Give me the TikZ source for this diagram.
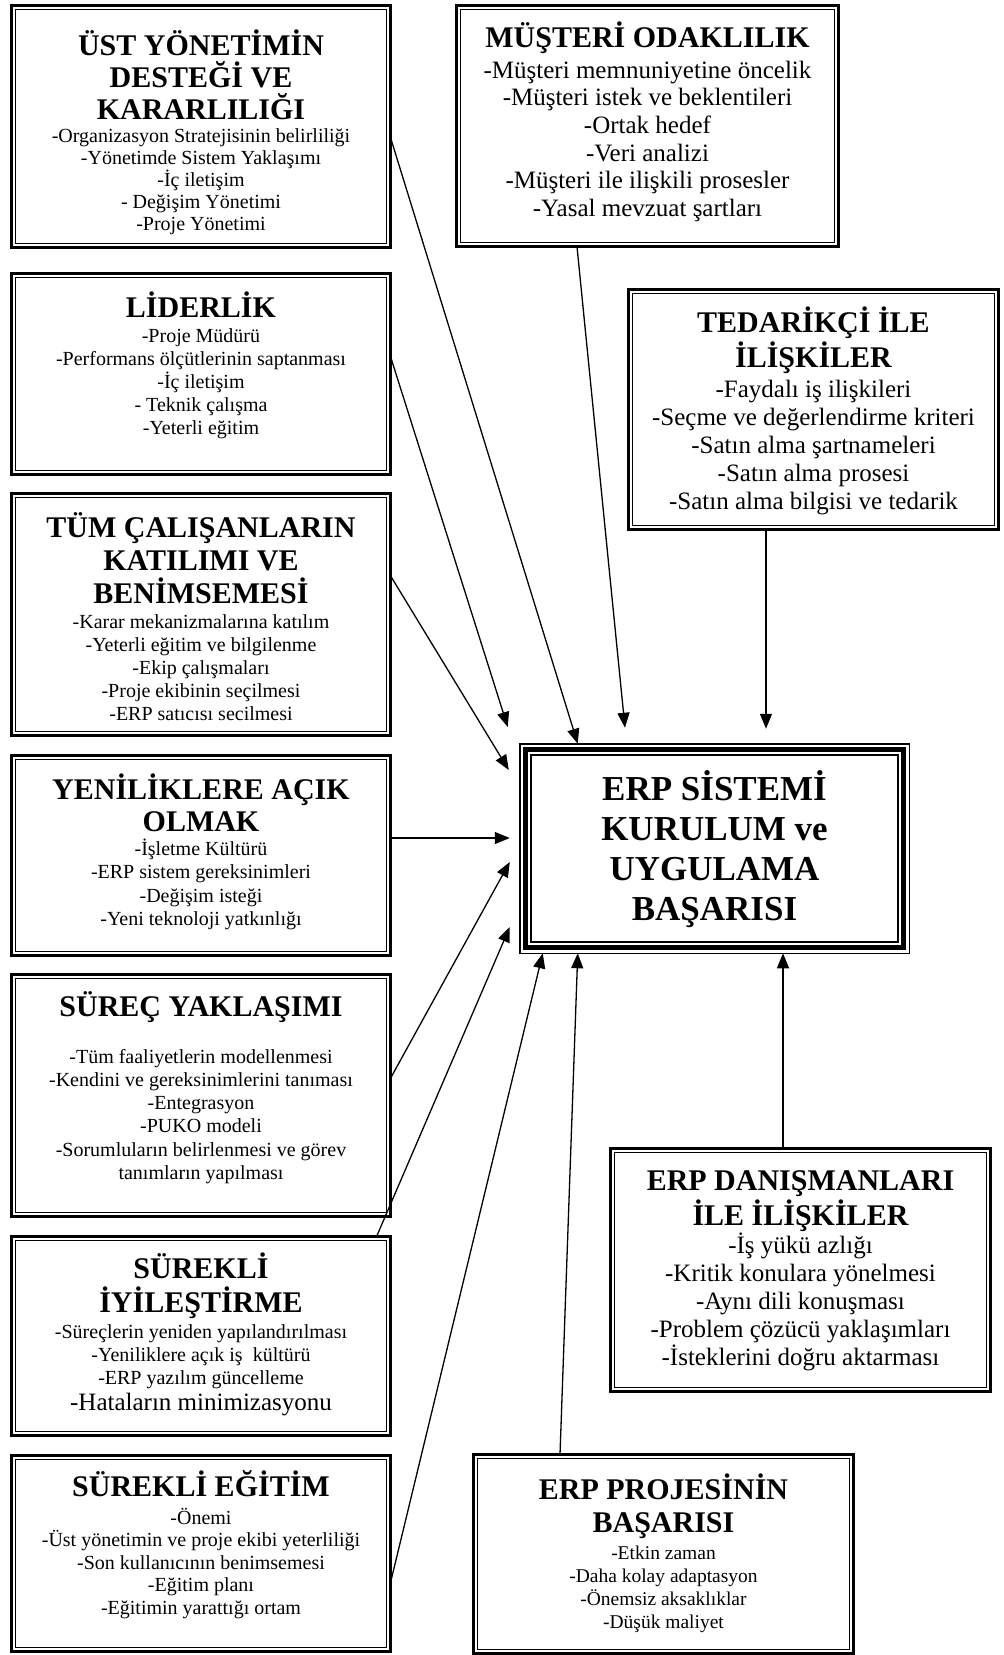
\documentclass[tikz,border=0pt]{standalone}
\usepackage{fontspec}
\setmainfont{Liberation Serif}
\usetikzlibrary{arrows.meta}

% frame: thick outer line with a thin line just inside it
\newcommand\panel[5]{%
  \node[frame, minimum width={#4-#2-2.7}, minimum height={#5-#3-2.7}]
    (#1) at ({(#2+#4)/2},{(#3+#5)/2}) {};
  \draw[line width=1.3pt] ([shift={(4.2,4.2)}]#1.north west)
    rectangle ([shift={(-4.2,-4.2)}]#1.south east);
}

\begin{document}
\begin{tikzpicture}[x=1pt,y=-1pt,
  frame/.style={draw, line width=2.7pt, outer sep=0pt, inner sep=0pt},
  ttl/.style={font=\bfseries\fontsize{30}{33}\selectfont, align=center, anchor=base, inner sep=0pt},
  bdy/.style={font=\fontsize{20}{23}\selectfont, align=center, anchor=base, inner sep=0pt},
  bdyL/.style={font=\fontsize{25}{28}\selectfont, align=center, anchor=base, inner sep=0pt},
  link/.style={line width=1.3pt, -{Triangle[length=15pt,width=12pt]}}
]
\useasboundingbox (0,0) rectangle (1004,1655);
% text nodes are placed by the baseline of their last line

% ---------- left column ----------
\panel{ust}{10}{4}{392}{249}
\node[ttl, font=\bfseries\fontsize{30}{32}\selectfont] (ust-t) at (201,{55+2*32}) {ÜST YÖNETİMİN\\DESTEĞİ VE\\KARARLILIĞI};
\node[bdy, font=\fontsize{20}{22}\selectfont] (ust-b) at (201,{142+4*22}) {-Organizasyon Stratejisinin belirliliği\\-Yönetimde Sistem Yaklaşımı\\-İç iletişim\\- Değişim Yönetimi\\-Proje Yönetimi};

\panel{lid}{10}{272}{392}{476}
\node[ttl] (lid-t) at (201,317) {LİDERLİK};
\node[bdy] (lid-b) at (201,{342+4*23}) {-Proje Müdürü\\-Performans ölçütlerinin saptanması\\-İç iletişim\\- Teknik çalışma\\-Yeterli eğitim};

\panel{tum}{10}{492}{392}{737}
\node[ttl] (tum-t) at (201,{537+2*33}) {TÜM ÇALIŞANLARIN\\KATILIMI VE\\BENİMSEMESİ};
\node[bdy] (tum-b) at (201,{628+4*23}) {-Karar mekanizmalarına katılım\\-Yeterli eğitim ve bilgilenme\\-Ekip çalışmaları\\-Proje ekibinin seçilmesi\\-ERP satıcısı secilmesi};

\panel{yeni}{10}{754}{392}{957}
\node[ttl, font=\bfseries\fontsize{30}{32}\selectfont] (yeni-t) at (201,{799+32}) {YENİLİKLERE AÇIK\\OLMAK};
\node[bdy, font=\fontsize{20}{23.5}\selectfont] (yeni-b) at (201,{855+3*23.5}) {-İşletme Kültürü\\-ERP sistem gereksinimleri\\-Değişim isteği\\-Yeni teknoloji yatkınlığı};

\panel{surec}{10}{973}{392}{1218}
\node[ttl] (surec-t) at (201,1016) {SÜREÇ YAKLAŞIMI};
\node[bdy, font=\fontsize{20}{23.3}\selectfont] (surec-b) at (201,{1063+5*23.3}) {-Tüm faaliyetlerin modellenmesi\\-Kendini ve gereksinimlerini tanıması\\-Entegrasyon\\-PUKO modeli\\-Sorumluların belirlenmesi ve görev\\tanımların yapılması};

\panel{iyi}{10}{1235}{392}{1437}
\node[ttl, font=\bfseries\fontsize{30}{34}\selectfont] (iyi-t) at (201,{1278+34}) {SÜREKLİ\\İYİLEŞTİRME};
\node[bdy, font=\fontsize{20}{23}\selectfont] (iyi-b) at (201,{1338+2*23}) {-Süreçlerin yeniden yapılandırılması\\-Yeniliklere açık iş\ \ kültürü\\-ERP yazılım güncelleme};
\node[bdyL] (iyi-c) at (201,1410) {-Hataların minimizasyonu};

\panel{egitim}{10}{1454}{392}{1653}
\node[ttl] (egitim-t) at (201,1496) {SÜREKLİ EĞİTİM};
\node[bdy, font=\fontsize{20}{22.5}\selectfont] (egitim-b) at (201,{1524+4*22.5}) {-Önemi\\-Üst yönetimin ve proje ekibi yeterliliği\\-Son kullanıcının benimsemesi\\-Eğitim planı\\-Eğitimin yarattığı ortam};

% ---------- right side ----------
\panel{must}{455}{4}{840}{248}
\node[ttl] (must-t) at (647.5,47) {MÜŞTERİ ODAKLILIK};
\node[bdyL, font=\fontsize{25}{27.7}\selectfont] (must-b) at (647.5,{78+5*27.7}) {-Müşteri memnuniyetine öncelik\\-Müşteri istek ve beklentileri\\-Ortak hedef\\-Veri analizi\\-Müşteri ile ilişkili prosesler\\-Yasal mevzuat şartları};

\panel{ted}{627}{288}{1000}{531}
\node[ttl, font=\bfseries\fontsize{30}{35}\selectfont] (ted-t) at (813.5,{332+35}) {TEDARİKÇİ İLE\\İLİŞKİLER};
\node[bdyL] (ted-b) at (813.5,{397+4*28}) {-Faydalı iş ilişkileri\\-Seçme ve değerlendirme kriteri\\-Satın alma şartnameleri\\-Satın alma prosesi\\-Satın alma bilgisi ve tedarik};

\panel{danis}{609}{1147}{992}{1393}
\node[ttl, font=\bfseries\fontsize{30}{35}\selectfont] (danis-t) at (800.5,{1190+35}) {ERP DANIŞMANLARI\\İLE İLİŞKİLER};
\node[bdyL] (danis-b) at (800.5,{1253+4*28}) {-İş yükü azlığı\\-Kritik konulara yönelmesi\\-Aynı dili konuşması\\-Problem çözücü yaklaşımları\\-İsteklerini doğru aktarması};

\panel{proj}{472}{1453}{855}{1655}
\node[ttl] (proj-t) at (663.5,{1499+33}) {ERP PROJESİNİN\\BAŞARISI};
\node[bdy, font=\fontsize{19.5}{23.3}\selectfont] (proj-b) at (663.5,{1559+3*23.3}) {-Etkin zaman\\-Daha kolay adaptasyon\\-Önemsiz aksaklıklar\\-Düşük maliyet};

% ---------- central box: thin / thick / thin ----------
\node[draw, line width=1.5pt, outer sep=0pt, inner sep=0pt,
      minimum width=389.5, minimum height=209.5] (erp) at (714.5,848.5) {};
\draw[line width=5pt] ([shift={(5.75,5.75)}]erp.north west) rectangle ([shift={(-5.75,-5.75)}]erp.south east);
\draw[line width=1.5pt] ([shift={(11.25,11.25)}]erp.north west) rectangle ([shift={(-11.25,-11.25)}]erp.south east);
\node[font=\bfseries\fontsize{35}{40}\selectfont, align=center, anchor=base, inner sep=0pt] (erp-t) at (714.5,{800+3*40})
  {ERP SİSTEMİ\\KURULUM ve\\UYGULAMA\\BAŞARISI};

% ---------- connectors ----------
\draw[link] (ust.east |- 0,138) -- ([xshift=58]erp.north west);
\draw[link] (lid.east |- 0,357) -- ([xshift=-12]erp.west |- 0,727);
\draw[link] (tum.east |- 0,576) -- ([xshift=-11]erp.west |- 0,770);
\draw[link] (yeni.east |- 0,838) -- ([xshift=-10]erp.west |- 0,838);
\draw[link] (surec.east |- 0,1078) -- ([xshift=-10]erp.west |- 0,862);
\draw[link] ([xshift=-14]iyi.north east) -- ([xshift=-10]erp.west |- 0,927);
\draw[link] (egitim.east |- 0,1582) -- ([xshift=23]erp.south west);
\draw[link] (proj.north -| 560,0) -- ([xshift=58]erp.south west);
\draw[link] (danis.north -| 783,0) -- (erp.south -| 783,0);
\draw[link] (ted.south -| 766,0) -- ([yshift=15]erp.north -| 766,0);
\draw[link] (must.south -| 577,0) -- ([yshift=16]erp.north -| 625,0);
\end{tikzpicture}
\end{document}
